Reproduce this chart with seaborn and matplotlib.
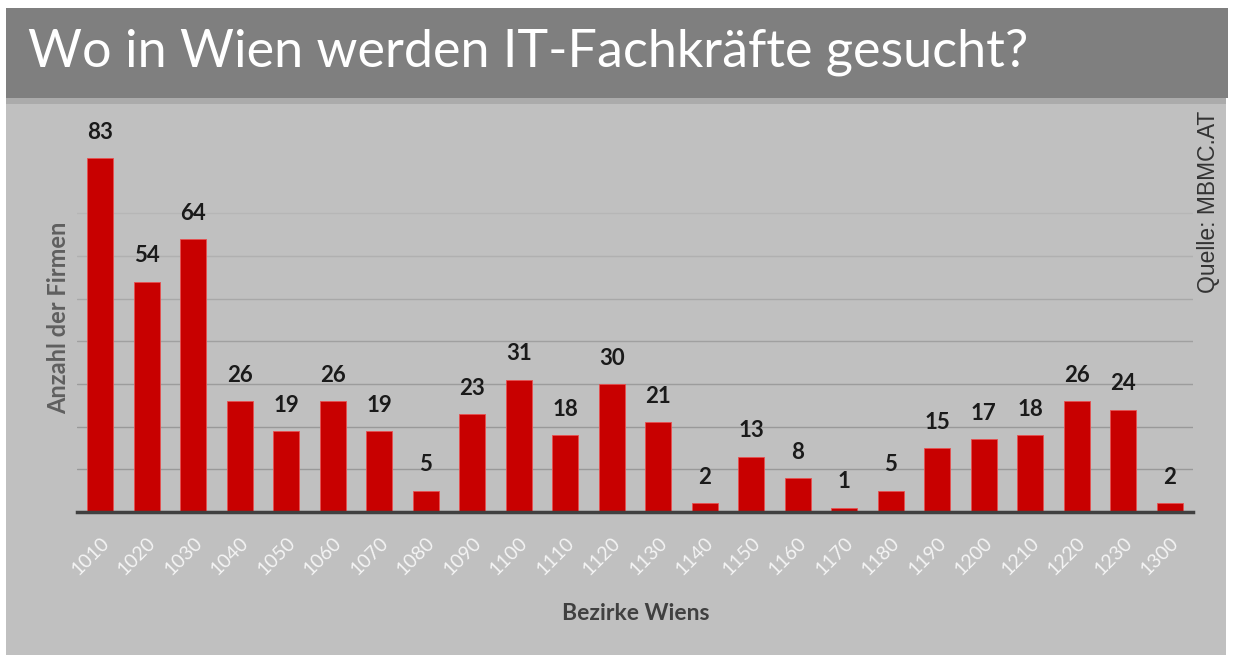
import matplotlib
matplotlib.use("Agg")
import matplotlib.pyplot as plt
import seaborn as sns
import pandas as pd
from matplotlib.patches import Rectangle

districts = ["1010", "1020", "1030", "1040", "1050", "1060", "1070", "1080", "1090", "1100",
             "1110", "1120", "1130", "1140", "1150", "1160", "1170", "1180", "1190", "1200",
             "1210", "1220", "1230", "1300"]
firms = [83, 54, 64, 26, 19, 26, 19, 5, 23, 31, 18, 30, 21, 2, 13, 8, 1, 5, 15, 17, 18, 26, 24, 2]

title = "Wo in Wien werden IT-Fachkräfte gesucht?"
xlabel = "Bezirke Wiens"
ylabel = "Anzahl der Firmen"
source = "Quelle: MBMC.AT"

df = pd.DataFrame({"Bezirk": districts, "Firmen": firms})

sns.set_theme(style="white")
plt.rcParams["font.family"] = ["Lato", "DejaVu Sans"]

W, H = 1234, 661
fig = plt.figure(figsize=(W / 100, H / 100), dpi=100)
fig.patch.set_facecolor("white")

# grey panel and title bar
fig.patches.append(Rectangle((6/W, 6/H), 1220/W, (H-6-98)/H, transform=fig.transFigure,
                             facecolor="#c0c0c0", edgecolor="none", zorder=-2))
fig.patches.append(Rectangle((6/W, (H-104)/H), 1220/W, 6/H, transform=fig.transFigure,
                             facecolor="#ababab", edgecolor="none", zorder=-1))
fig.patches.append(Rectangle((6/W, (H-98)/H), 1222/W, 90/H, transform=fig.transFigure,
                             facecolor="#7f7f7f", edgecolor="none", zorder=-1))
fig.text(28/W, (H-52)/H, title, color="white", fontsize=37.5, ha="left", va="center",
         family=["Lato", "DejaVu Sans"])

x0, x1, yb, yt = 77, 1193, 512, 128
ax = fig.add_axes([x0/W, (H-yb)/H, (x1-x0)/W, (yb-yt)/H])
ax.set_zorder(5)
ax.set_facecolor("none")
sns.barplot(data=df, x="Bezirk", y="Firmen", color="#c80000", width=0.56, ax=ax,
            edgecolor="#e85050", linewidth=0.6, saturation=1, zorder=3)
ax.set_xlim(-0.5, len(districts) - 0.5)
ax.set_ylim(0, 90)
ax.set_yticks(range(10, 71, 10))
ax.yaxis.grid(True, color="#9c9c9c", linewidth=1)
ax.set_axisbelow(True)
grid_cols = ["#999999", "#999999", "#9c9c9c", "#a0a0a0", "#a8a8a8", "#b0b0b0", "#b6b6b6"]
for gl, gc in zip(ax.get_ygridlines(), grid_cols):
    gl.set_color(gc)
ax.set_yticklabels([])
ax.tick_params(axis="y", length=0)
ax.tick_params(axis="x", length=0, pad=16, colors="#f4f4f4", labelsize=14)
for lbl in ax.get_xticklabels():
    lbl.set_rotation(45)
    lbl.set_ha("right")
    lbl.set_va("top")
    lbl.set_rotation_mode("anchor")
for s in ["top", "right", "left"]:
    ax.spines[s].set_visible(False)
ax.spines["bottom"].set_color("#404040")
ax.spines["bottom"].set_linewidth(2.5)
ax.spines["bottom"].set_zorder(4)

for c in ax.containers:
    ax.bar_label(c, padding=11, fontsize=16, fontweight="bold", color="#1a1a1a")

ax.set_xlabel(xlabel, fontsize=16.5, fontweight="bold", color="#404040")
ax.xaxis.set_label_coords((635.5 - x0) / (x1 - x0), (yb - 603) / (yb - yt))
ax.set_ylabel(ylabel, fontsize=17, fontweight="bold", color="#5f5f5f")
ax.yaxis.set_label_coords((70 - x0) / (x1 - x0), (yb - 317.5) / (yb - yt))

fig.text(1208/W, (H-202)/H, source, rotation=90, fontsize=16.5, color="#333333",
         ha="center", va="center", family=["Liberation Sans", "DejaVu Sans"])

fig.savefig("out.png", dpi=100)
